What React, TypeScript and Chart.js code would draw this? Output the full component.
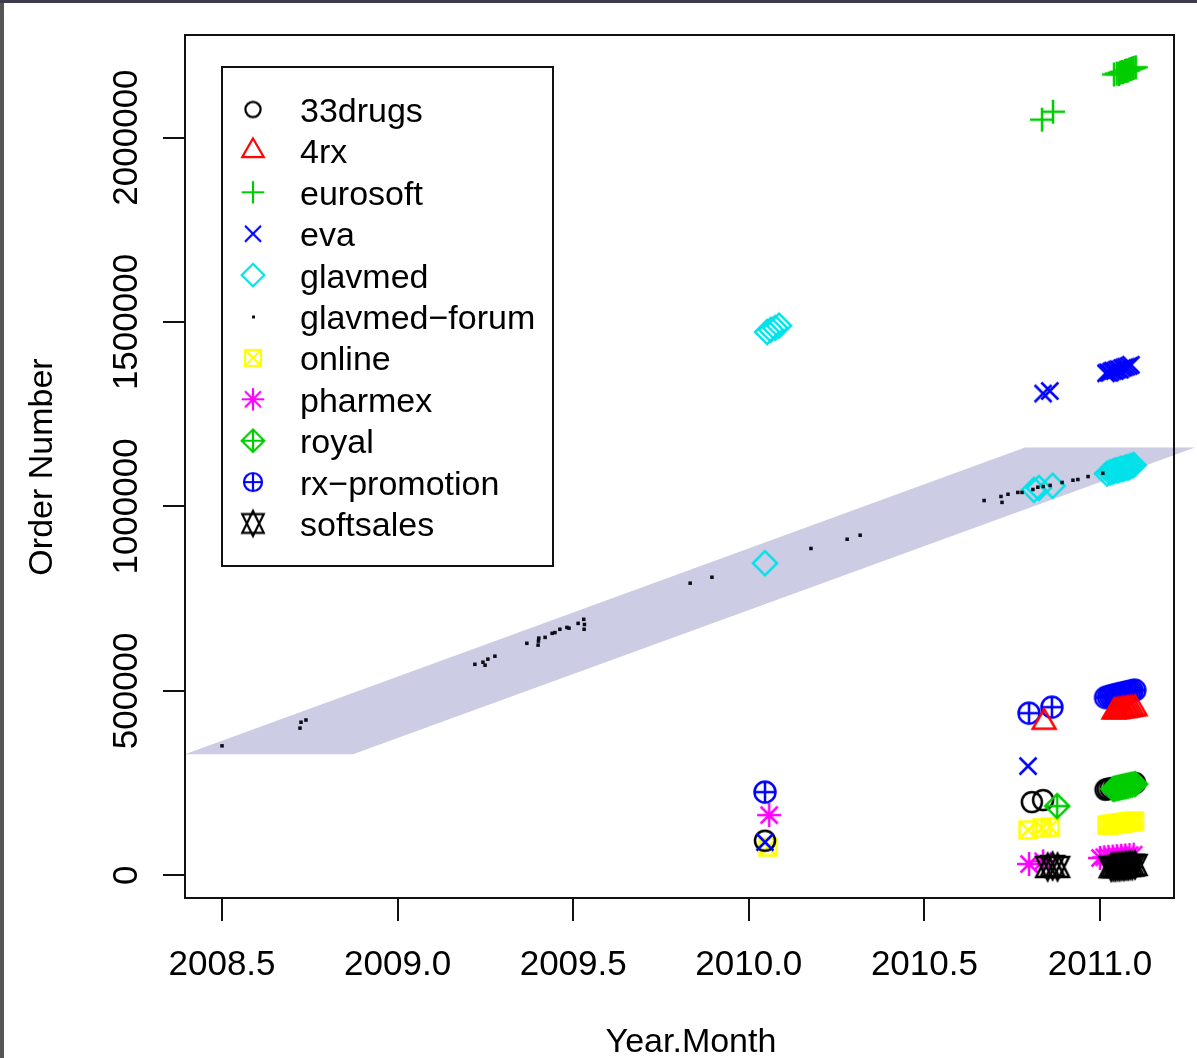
import React, { useEffect, useRef } from 'react';
import { Chart, registerables } from 'chart.js';

Chart.register(...registerables);

// ---- axes ----
const X_MIN = 2008.3946;
const X_MAX = 2011.2107;
const Y_MIN = -61500;
const Y_MAX = 2278000;
const xTicks = [2008.5, 2009.0, 2009.5, 2010.0, 2010.5, 2011.0];
const xTickLabels = ['2008.5', '2009.0', '2009.5', '2010.0', '2010.5', '2011.0'];
const yTicks = [0, 500000, 1000000, 1500000, 2000000];
const yTickLabels = ['0', '500000', '1000000', '1500000', '2000000'];
const xTitle = 'Year.Month';
const yTitle = 'Order Number';

// ---- shaded band (polygon vertices) ----
const bandX = [2008.3946, 2008.873, 2011.2705, 2010.7864];
const bandY = [328500, 328500, 1160000, 1160000];

// ---- series ----
const seriesNames = ['33drugs', '4rx', 'eurosoft', 'eva', 'glavmed', 'glavmed\u2212forum', 'online', 'pharmex', 'royal', 'rx\u2212promotion', 'softsales'];
const seriesColors = ['#000000', '#ff0000', '#00cd00', '#0000ff', '#00e2ea', '#000000', '#ffff00', '#ff00ff', '#00cd00', '#0000ff', '#000000'];
const seriesPch = [1, 2, 3, 4, 5, 0, 7, 8, 9, 10, 11];
const seriesOrder = [5, 2, 10, 1, 9, 0, 8, 7, 3, 6, 4];

const drugs33: [number, number][] = [
  [2010.046, 93700], [2010.806, 198500], [2010.838, 203900],
  [2011.016, 232000], [2011.022, 234000], [2011.030, 236000], [2011.040, 237000], [2011.050, 239000],
  [2011.060, 241000], [2011.070, 243000], [2011.080, 245000], [2011.090, 247000], [2011.100, 250000],
];
const rx4: [number, number][] = [
  [2010.841, 415000],
  [2011.040, 443000], [2011.045, 444500], [2011.050, 444000], [2011.055, 446000], [2011.060, 446000],
  [2011.065, 447500], [2011.070, 447000], [2011.075, 448500], [2011.080, 449000], [2011.086, 450000],
  [2011.092, 451000], [2011.100, 452000],
];
const eurosoft: [number, number][] = [
  [2010.835, 2048500], [2010.866, 2070000],
  [2011.040, 2171000], [2011.048, 2173500], [2011.054, 2172000], [2011.057, 2176000], [2011.062, 2178000],
  [2011.066, 2177000], [2011.071, 2180500], [2011.075, 2182000], [2011.079, 2181000], [2011.083, 2184500],
  [2011.088, 2186000], [2011.092, 2187500], [2011.096, 2189000], [2011.102, 2190500],
];
const eva: [number, number][] = [
  [2010.046, 90000], [2010.795, 296000], [2010.838, 1306000], [2010.857, 1313000],
  [2011.017, 1361000], [2011.022, 1363500], [2011.027, 1362000], [2011.032, 1366000], [2011.037, 1368000],
  [2011.042, 1367000], [2011.047, 1370500], [2011.052, 1372000], [2011.057, 1371000], [2011.063, 1375000],
  [2011.069, 1377000], [2011.075, 1379000], [2011.082, 1381000], [2011.088, 1384000],
];
const glavmed: [number, number][] = [
  [2010.046, 846000], [2010.052, 1473000], [2010.063, 1479000], [2010.075, 1484000], [2010.086, 1490000],
  [2010.812, 1045000], [2010.826, 1050000], [2010.865, 1056000],
  [2011.020, 1089000], [2011.028, 1092000], [2011.035, 1094000], [2011.040, 1096000], [2011.045, 1098000],
  [2011.050, 1097000], [2011.055, 1100000], [2011.060, 1102000], [2011.065, 1101000], [2011.070, 1104000],
  [2011.075, 1106000], [2011.080, 1105000], [2011.085, 1108000], [2011.090, 1110000], [2011.096, 1112000],
];
const glavmedForum: [number, number][] = [
  [2008.500, 351000],
  [2008.722, 399000], [2008.725, 415000], [2008.739, 421000],
  [2009.220, 572000], [2009.243, 577700], [2009.249, 569600], [2009.257, 586000], [2009.277, 594000],
  [2009.368, 629000], [2009.400, 624000], [2009.401, 635000], [2009.402, 643000], [2009.420, 645000],
  [2009.440, 656000], [2009.448, 658000], [2009.462, 667000], [2009.482, 672000], [2009.488, 670000],
  [2009.514, 683000], [2009.530, 694000], [2009.532, 680000], [2009.531, 667000],
  [2009.833, 792000], [2009.895, 808000], [2010.177, 886000], [2010.280, 911000], [2010.317, 922000],
  [2010.670, 1016000], [2010.718, 1027000], [2010.721, 1011000], [2010.738, 1033000], [2010.766, 1038000],
  [2010.778, 1038000], [2010.809, 1046000], [2010.823, 1052000], [2010.838, 1054000], [2010.858, 1057000],
  [2010.892, 1065000], [2010.923, 1071000], [2010.937, 1073000], [2010.966, 1081000], [2011.008, 1090000],
];
const online: [number, number][] = [
  [2010.055, 76700], [2010.795, 122700], [2010.835, 128100], [2010.858, 130800],
  [2011.020, 136000], [2011.027, 137000], [2011.034, 138000], [2011.041, 139000], [2011.048, 140000],
  [2011.055, 141000], [2011.062, 142000], [2011.069, 143000], [2011.076, 144000], [2011.083, 145000],
  [2011.090, 146000], [2011.098, 147000],
];
const pharmex: [number, number][] = [
  [2010.058, 163300], [2010.798, 30600], [2010.838, 38000],
  [2011.000, 47000], [2011.012, 49000], [2011.024, 50000], [2011.036, 51000], [2011.048, 52000],
  [2011.060, 53000], [2011.072, 54000], [2011.084, 55000], [2011.096, 56000],
];
const royal: [number, number][] = [
  [2010.878, 187700],
  [2011.038, 234000], [2011.044, 235500], [2011.050, 237000], [2011.056, 238000], [2011.062, 239500],
  [2011.068, 240500], [2011.074, 242000], [2011.080, 243000], [2011.086, 244500], [2011.092, 246000],
  [2011.100, 247500],
];
const rxPromotion: [number, number][] = [
  [2010.046, 225600], [2010.798, 439600], [2010.863, 455900],
  [2011.016, 482000], [2011.024, 484000], [2011.030, 486000], [2011.036, 487000], [2011.042, 489000],
  [2011.048, 490000], [2011.055, 492000], [2011.061, 493000], [2011.067, 494000], [2011.073, 496000],
  [2011.079, 497000], [2011.085, 498000], [2011.091, 500000], [2011.099, 502000],
];
const softsales: [number, number][] = [
  [2010.851, 22600], [2010.865, 25300], [2010.879, 22600],
  [2011.032, 22000], [2011.038, 23000], [2011.044, 22500], [2011.050, 24000], [2011.056, 23500],
  [2011.062, 25000], [2011.068, 24500], [2011.074, 26000], [2011.080, 25500], [2011.086, 27000],
  [2011.092, 26500], [2011.100, 28000],
];
const seriesData = [drugs33, rx4, eurosoft, eva, glavmed, glavmedForum, online, pharmex, royal, rxPromotion, softsales];

const FONT = '"Liberation Sans", Arial, Helvetica, sans-serif';
const BAND_COLOR = '#cccce4';

function drawPch(ctx: CanvasRenderingContext2D, pch: number, cx: number, cy: number, s: number, color: string, lw: number) {
  ctx.strokeStyle = color;
  ctx.fillStyle = color;
  ctx.lineWidth = lw;
  ctx.lineJoin = 'miter';
  ctx.beginPath();
  const q = Math.SQRT2 * s;
  switch (pch) {
    case 0:
      ctx.fillRect(cx - 1.5, cy - 1.5, 3, 3);
      return;
    case 1:
      ctx.arc(cx, cy, s, 0, Math.PI * 2);
      break;
    case 2: {
      const r = 1.5551 * s, yc = 0.7776 * s, xc = 1.3468 * s;
      ctx.moveTo(cx, cy - r); ctx.lineTo(cx + xc, cy + yc); ctx.lineTo(cx - xc, cy + yc); ctx.closePath();
      break;
    }
    case 3:
      ctx.moveTo(cx - q, cy); ctx.lineTo(cx + q, cy); ctx.moveTo(cx, cy - q); ctx.lineTo(cx, cy + q);
      break;
    case 4:
      ctx.moveTo(cx - s, cy - s); ctx.lineTo(cx + s, cy + s); ctx.moveTo(cx - s, cy + s); ctx.lineTo(cx + s, cy - s);
      break;
    case 5:
      ctx.moveTo(cx, cy - q); ctx.lineTo(cx + q, cy); ctx.lineTo(cx, cy + q); ctx.lineTo(cx - q, cy); ctx.closePath();
      break;
    case 7:
      ctx.rect(cx - s, cy - s, 2 * s, 2 * s);
      ctx.moveTo(cx - s, cy - s); ctx.lineTo(cx + s, cy + s); ctx.moveTo(cx - s, cy + s); ctx.lineTo(cx + s, cy - s);
      break;
    case 8:
      ctx.moveTo(cx - q, cy); ctx.lineTo(cx + q, cy); ctx.moveTo(cx, cy - q); ctx.lineTo(cx, cy + q);
      ctx.moveTo(cx - s, cy - s); ctx.lineTo(cx + s, cy + s); ctx.moveTo(cx - s, cy + s); ctx.lineTo(cx + s, cy - s);
      break;
    case 9:
      ctx.moveTo(cx, cy - q); ctx.lineTo(cx + q, cy); ctx.lineTo(cx, cy + q); ctx.lineTo(cx - q, cy); ctx.closePath();
      ctx.moveTo(cx - q, cy); ctx.lineTo(cx + q, cy); ctx.moveTo(cx, cy - q); ctx.lineTo(cx, cy + q);
      break;
    case 10:
      ctx.arc(cx, cy, s, 0, Math.PI * 2);
      ctx.moveTo(cx - s, cy); ctx.lineTo(cx + s, cy); ctx.moveTo(cx, cy - s); ctx.lineTo(cx, cy + s);
      break;
    case 11: {
      const r = 1.5551 * s, yc = 1.1664 * s, xc = 1.3468 * s;
      ctx.moveTo(cx, cy - r); ctx.lineTo(cx + xc, cy + yc); ctx.lineTo(cx - xc, cy + yc); ctx.closePath();
      ctx.moveTo(cx, cy + r); ctx.lineTo(cx + xc, cy - yc); ctx.lineTo(cx - xc, cy - yc); ctx.closePath();
      break;
    }
  }
  ctx.stroke();
}

function makeSymbol(pch: number, color: string, s: number, lw: number): HTMLCanvasElement {
  const ext = pch === 2 || pch === 11 ? 1.5551 * s : (pch === 3 || pch === 5 || pch === 8 || pch === 9 ? Math.SQRT2 * s : s);
  const n = 2 * Math.ceil(ext + lw + 1);
  const c = document.createElement('canvas');
  c.width = n; c.height = n;
  const ctx = c.getContext('2d')!;
  drawPch(ctx, pch, n / 2, n / 2, s, color, lw);
  return c;
}

function plotSize(pch: number) {
  if (pch === 1) return 10;
  if (pch === 10) return 10.5;
  return 8.5;
}
function legendSize(pch: number) {
  if (pch === 1) return 7.6;
  if (pch === 10) return 9;
  return 8;
}

export default function App() {
  const ref = useRef<HTMLCanvasElement | null>(null);

  useEffect(() => {
    const canvas = ref.current;
    if (!canvas) return;

    const legendSymbols = seriesPch.map((p, i) => makeSymbol(p, seriesColors[i], legendSize(p), 2.2));

    const datasets: any[] = seriesNames.map((name, i) => {
      const pch = seriesPch[i];
      const base: any = {
        label: name,
        data: seriesData[i].map(([x, y]) => ({ x, y })),
        showLine: false,
        order: seriesOrder[i],
        clip: false,
        borderColor: seriesColors[i],
        backgroundColor: seriesColors[i],
      };
      if (pch === 0) {
        return { ...base, pointStyle: 'rect', pointRadius: 2.5, pointHoverRadius: 2.5, borderWidth: 0, pointBorderWidth: 0, backgroundColor: '#0c0c16' };
      }
      return { ...base, pointStyle: makeSymbol(pch, seriesColors[i], plotSize(pch), 2.5), pointRadius: 6, pointHoverRadius: 6 };
    });

    const rPlot = {
      id: 'rPlot',
      beforeDatasetsDraw(chart: any) {
        const { ctx, scales } = chart;
        const xs = scales.x, ys = scales.y;
        ctx.save();
        ctx.fillStyle = BAND_COLOR;
        ctx.beginPath();
        bandX.forEach((vx, i) => {
          const px = xs.getPixelForValue(vx);
          const py = ys.getPixelForValue(bandY[i]);
          if (i === 0) ctx.moveTo(px, py); else ctx.lineTo(px, py);
        });
        ctx.closePath();
        ctx.fill();
        ctx.restore();
      },
      afterDatasetsDraw(chart: any) {
        const { ctx, chartArea, scales } = chart;
        const xs = scales.x, ys = scales.y;
        const { left, right, top, bottom } = chartArea;
        ctx.save();
        // box
        ctx.strokeStyle = '#111';
        ctx.lineWidth = 2;
        ctx.strokeRect(left, top, right - left, bottom - top);
        // ticks
        ctx.fillStyle = '#000';
        ctx.font = `35px ${FONT}`;
        ctx.textAlign = 'center';
        ctx.textBaseline = 'alphabetic';
        ctx.beginPath();
        yTicks.forEach((v) => {
          const py = Math.round(ys.getPixelForValue(v));
          ctx.moveTo(left - 22, py);
          ctx.lineTo(left, py);
        });
        xTicks.forEach((v) => {
          const px = Math.round(xs.getPixelForValue(v));
          ctx.moveTo(px, bottom);
          ctx.lineTo(px, bottom + 23);
        });
        ctx.stroke();
        xTicks.forEach((v, i) => {
          const px = xs.getPixelForValue(v);
          ctx.fillText(xTickLabels[i], px, 975);
        });
        yTicks.forEach((v, i) => {
          const py = ys.getPixelForValue(v);
          ctx.save();
          ctx.translate(137, py);
          ctx.rotate(-Math.PI / 2);
          ctx.fillText(yTickLabels[i], 0, 0);
          ctx.restore();
        });
        // titles
        ctx.font = `34px ${FONT}`;
        ctx.fillText(xTitle, 691, 1052);
        ctx.save();
        ctx.translate(52, 467);
        ctx.rotate(-Math.PI / 2);
        ctx.fillText(yTitle, 0, 0);
        ctx.restore();
        // legend
        const lx = 222, ly = 67, lw = 331, lh = 499;
        ctx.fillStyle = '#fff';
        ctx.fillRect(lx, ly, lw, lh);
        ctx.strokeStyle = '#111';
        ctx.lineWidth = 2;
        ctx.strokeRect(lx, ly, lw, lh);
        ctx.font = `34px ${FONT}`;
        ctx.textAlign = 'left';
        ctx.fillStyle = '#000';
        seriesNames.forEach((name, i) => {
          const cy = 109.5 + i * 41.4;
          if (seriesPch[i] === 0) {
            ctx.fillStyle = '#111';
            ctx.fillRect(252, cy - 1, 3, 3);
          } else {
            const sym = legendSymbols[i];
            ctx.drawImage(sym, 253 - sym.width / 2, cy - sym.height / 2);
          }
          ctx.fillStyle = '#000';
          ctx.fillText(name, 300, cy + 12.5);
        });
        ctx.restore();
      },
    };

    const chart = new Chart(canvas, {
      type: 'scatter',
      data: { datasets },
      options: {
        animation: false,
        responsive: false,
        maintainAspectRatio: false,
        events: [],
        layout: { padding: { left: 185, right: 23, top: 35, bottom: 160 } },
        scales: {
          x: { type: 'linear', display: false, min: X_MIN, max: X_MAX },
          y: { type: 'linear', display: false, min: Y_MIN, max: Y_MAX },
        },
        plugins: { legend: { display: false }, tooltip: { enabled: false } },
      } as any,
      plugins: [rPlot as any],
    });
    return () => chart.destroy();
  }, []);

  return (
    <div style={{ position: 'absolute', left: 0, top: 0, width: 1197, height: 1058, background: '#fff', overflow: 'hidden' }}>
      <canvas ref={ref} width={1197} height={1058} style={{ display: 'block', width: 1197, height: 1058 }} />
      <div style={{ position: 'absolute', left: 0, top: 0, width: 4, height: 1058, background: '#555' }} />
      <div style={{ position: 'absolute', left: 0, top: 0, width: 1197, height: 3, background: '#3c3c4c' }} />
    </div>
  );
}
